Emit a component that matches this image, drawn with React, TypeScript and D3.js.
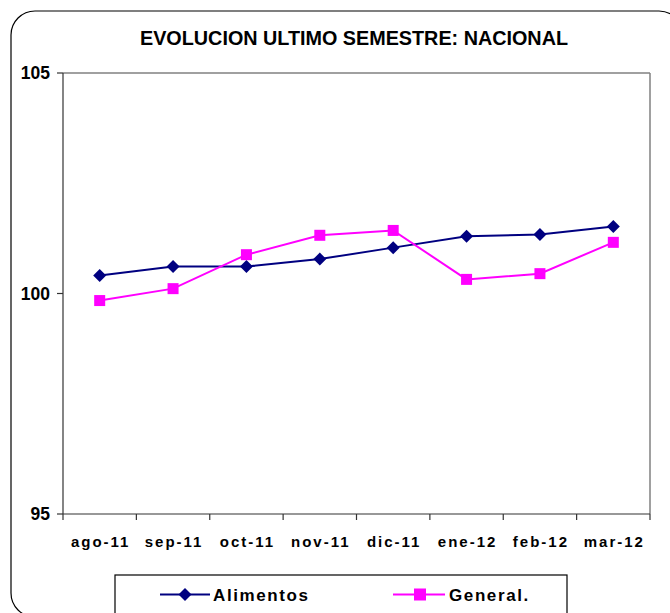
import React from "react";
import * as d3 from "d3";

const categories = ["ago-11", "sep-11", "oct-11", "nov-11", "dic-11", "ene-12", "feb-12", "mar-12"];
const alimentos = [100.41, 100.61, 100.61, 100.78, 101.04, 101.3, 101.34, 101.52];
const general = [99.84, 100.11, 100.88, 101.32, 101.43, 100.32, 100.45, 101.16];
const yTicks = [95, 100, 105];
const title = "EVOLUCION ULTIMO SEMESTRE: NACIONAL";
const seriesNames = ["Alimentos", "General."];

export default function App() {
  const W = 670, H = 613;
  const left = 63, right = 650, top = 73, bottom = 514;
  const x = d3.scaleBand<string>().domain(categories).range([left, right]);
  const y = d3.scaleLinear().domain([95, 105]).range([bottom, top]);
  const line = d3
    .line<number>()
    .x((_, i) => (x(categories[i]) as number) + x.bandwidth() / 2)
    .y((d) => y(d));
  const navy = "#000080";
  const mag = "#FF00FF";
  const font = "'Liberation Sans', Arial, sans-serif";
  const diamond = (cx: number, cy: number, r = 6.5) =>
    `M${cx},${cy - r}L${cx + r},${cy}L${cx},${cy + r}L${cx - r},${cy}Z`;
  return (
    <svg width={W} height={H} style={{ position: "absolute", left: 0, top: 0, background: "#fff" }} fontFamily={font}>
      <rect x={11} y={11} width={672} height={606} rx={24} ry={24} fill="#fff" stroke="#000" strokeWidth={1.2} />
      <text
        x={140}
        y={45}
        fontWeight="bold"
        fontSize={21}
        textLength={428}
        lengthAdjust="spacingAndGlyphs"
      >
        {title}
      </text>
      {/* plot frame */}
      <line x1={left} x2={right} y1={top} y2={top} stroke="#808080" strokeWidth={1.5} />
      <line x1={right} x2={right} y1={top} y2={bottom} stroke="#808080" strokeWidth={1.5} />
      <line x1={left} x2={left} y1={top} y2={bottom + 6} stroke="#333" strokeWidth={1.2} />
      <line x1={left} x2={right} y1={bottom} y2={bottom} stroke="#333" strokeWidth={1.2} />
      {yTicks.map((t) => (
        <g key={t}>
          <line x1={left - 6} x2={left} y1={y(t)} y2={y(t)} stroke="#333" strokeWidth={1.2} />
          <text x={50} y={y(t) + 6} textAnchor="end" fontWeight="bold" fontSize={17.5}>
            {t}
          </text>
        </g>
      ))}
      {categories.map((c) => (
        <g key={c}>
          <line
            x1={(x(c) as number) + x.bandwidth()}
            x2={(x(c) as number) + x.bandwidth()}
            y1={bottom}
            y2={bottom + 6}
            stroke="#333"
            strokeWidth={1.2}
          />
          <text
            x={(x(c) as number) + x.bandwidth() / 2 + 1}
            y={547}
            textAnchor="middle"
            fontWeight="bold"
            fontSize={15}
            letterSpacing={2}
          >
            {c}
          </text>
        </g>
      ))}
      <path d={line(alimentos) || ""} fill="none" stroke={navy} strokeWidth={2} />
      <path d={line(general) || ""} fill="none" stroke={mag} strokeWidth={2} />
      {alimentos.map((v, i) => (
        <path key={"a" + i} d={diamond((x(categories[i]) as number) + x.bandwidth() / 2, y(v))} fill={navy} />
      ))}
      {general.map((v, i) => (
        <rect
          key={"g" + i}
          x={(x(categories[i]) as number) + x.bandwidth() / 2 - 5.5}
          y={y(v) - 5.5}
          width={11}
          height={11}
          fill={mag}
        />
      ))}
      {/* legend */}
      <rect x={115} y={575} width={452} height={60} fill="#fff" stroke="#000" strokeWidth={1.2} />
      <line x1={160} x2={210} y1={594.5} y2={594.5} stroke={navy} strokeWidth={2} />
      <path d={diamond(185, 594.5)} fill={navy} />
      <text x={213} y={601} fontWeight="bold" fontSize={17} letterSpacing={1.6}>
        {seriesNames[0]}
      </text>
      <line x1={393} x2={445} y1={594.5} y2={594.5} stroke={mag} strokeWidth={2} />
      <rect x={414} y={588.5} width={12} height={12} fill={mag} />
      <text x={449} y={601} fontWeight="bold" fontSize={17} letterSpacing={1.6}>
        {seriesNames[1]}
      </text>
    </svg>
  );
}
